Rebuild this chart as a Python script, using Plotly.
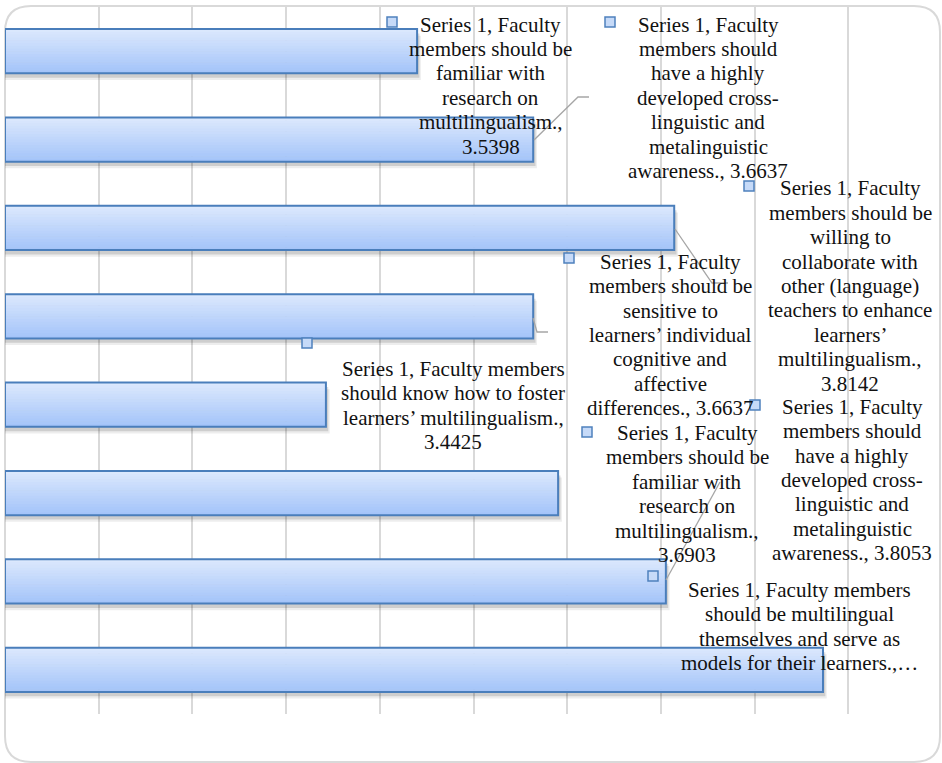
import plotly.graph_objects as go

# ---------------- data ----------------
categories = [
    "Familiar with research on multilingualism (a)",
    "Highly developed cross-linguistic and metalinguistic awareness (a)",
    "Willing to collaborate with other (language) teachers",
    "Sensitive to learners' individual differences",
    "Know how to foster learners' multilingualism",
    "Familiar with research on multilingualism (b)",
    "Highly developed cross-linguistic and metalinguistic awareness (b)",
    "Multilingual themselves and models for learners",
]
values = [3.5398, 3.6637, 3.8142, 3.6637, 3.4425, 3.6903, 3.8053, 3.973]

label_lines = [
    ["Series 1, Faculty", "members should be", "familiar with", "research on", "multilingualism.,", "3.5398"],
    ["Series 1, Faculty", "members should", "have a highly", "developed cross-", "linguistic and", "metalinguistic", "awareness., 3.6637"],
    ["Series 1, Faculty", "members should be", "willing to", "collaborate with", "other (language)", "teachers to enhance", "learners\u2019", "multilingualism.,", "3.8142"],
    ["Series 1, Faculty", "members should be", "sensitive to", "learners\u2019 individual", "cognitive and", "affective", "differences., 3.6637"],
    ["Series 1, Faculty members", "should know how to foster", "learners\u2019 multilingualism.,", "3.4425"],
    ["Series 1, Faculty", "members should be", "familiar with", "research on", "multilingualism.,", "3.6903"],
    ["Series 1, Faculty", "members should", "have a highly", "developed cross-", "linguistic and", "metalinguistic", "awareness., 3.8053"],
    ["Series 1, Faculty members", "should be multilingual", "themselves and serve as", "models for their learners.,\u2026"],
]

x_min, x_max = 3.1, 4.1

# ---------------- layout geometry (pixels) ----------------
W, H = 942, 763
L, R, T, B = 5, 0, 7, 49
PW, PH = W - L - R, H - T - B


def px(x):
    return (x - L) / PW


def py(y):
    return (H - B - y) / PH


# label placement: (center x, first line center y) in pixels
label_pos = [(491, 24.5), (708, 24.5), (850, 188.3), (670, 261.7),
             (453, 369), (687, 433), (852, 406.7), (799, 590)]
key_pos = [(392, 22), (610, 22), (749, 186), (569, 258),
           (307, 343), (755, 405), (587, 432), (653, 576)]
leaders = [
    None,
    [(534, 140), (578, 97), (589, 97)],
    [(675, 229), (712, 283), (728, 283)],
    [(533, 318), (537, 332), (548, 332)],
    None,
    None,
    [(666, 580), (720, 482)],
    None,
]
LINE_H = 24.4

fig = go.Figure()

bar_w = 0.5
lengths = [v - x_min for v in values]

# soft shadow
for dy, dx, a in [(0.075, 0.004, 0.07), (0.05, 0.0025, 0.13)]:
    fig.add_trace(go.Bar(
        y=categories, x=[l + dx for l in lengths], base=x_min, orientation="h",
        width=bar_w, offset=-bar_w / 2 + dy,
        marker=dict(color=f"rgba(0,0,0,{a})", line=dict(width=0)),
        hoverinfo="skip", showlegend=False))

# vertical gradient fill built from thin slices
top_c = (221, 233, 253)
bot_c = (162, 195, 249)
N = 16
sw = bar_w / N
for i in range(N):
    t = (i + 0.5) / N
    c = tuple(round(top_c[k] + (bot_c[k] - top_c[k]) * t) for k in range(3))
    fig.add_trace(go.Bar(
        y=categories, x=lengths, base=x_min, orientation="h",
        width=sw * (1.2 if i < N - 1 else 1.0), offset=-bar_w / 2 + i * sw,
        marker=dict(color=f"rgb{c}", line=dict(width=0)),
        hoverinfo="skip", showlegend=False))

# outline
fig.add_trace(go.Bar(
    y=categories, x=lengths, base=x_min, orientation="h",
    width=bar_w, offset=-bar_w / 2,
    marker=dict(color="rgba(0,0,0,0)", line=dict(color="#4a7ebb", width=2)),
    name="Series 1", showlegend=False))

shapes = []
annotations = []

# chart border (rounded rectangle)
x0, x1, y0, y1, r = 5, 940, 6, 762, 26
pts = (f"M {px(x0 + r)},{py(y0)} L {px(x1 - r)},{py(y0)} "
       f"Q {px(x1)},{py(y0)} {px(x1)},{py(y0 + r)} L {px(x1)},{py(y1 - r)} "
       f"Q {px(x1)},{py(y1)} {px(x1 - r)},{py(y1)} L {px(x0 + r)},{py(y1)} "
       f"Q {px(x0)},{py(y1)} {px(x0)},{py(y1 - r)} L {px(x0)},{py(y0 + r)} "
       f"Q {px(x0)},{py(y0)} {px(x0 + r)},{py(y0)} Z")
shapes.append(dict(type="path", xref="paper", yref="paper", path=pts,
                   line=dict(color="#d9d9d9", width=2), layer="below"))

# leader lines
for ld in leaders:
    if not ld:
        continue
    p = "M " + " L ".join(f"{px(a)},{py(b)}" for a, b in ld)
    shapes.append(dict(type="path", xref="paper", yref="paper", path=p,
                       line=dict(color="#a6a6a6", width=1.3), layer="above"))

# legend keys of data labels
for kx, ky in key_pos:
    shapes.append(dict(type="rect", xref="paper", yref="paper",
                       x0=px(kx - 5), x1=px(kx + 5), y0=py(ky + 5), y1=py(ky - 5),
                       fillcolor="#c6daf8", line=dict(color="#4f81bd", width=1.5),
                       layer="above"))

# data label text, one annotation per line
for (cx, cy), lines in zip(label_pos, label_lines):
    for j, s in enumerate(lines):
        annotations.append(dict(
            x=px(cx), y=py(cy + j * LINE_H), xref="paper", yref="paper",
            text=s, showarrow=False, xanchor="center", yanchor="middle",
            font=dict(family="Liberation Serif, Times New Roman, serif",
                      size=21, color="#111111")))

fig.update_layout(
    width=W, height=H,
    margin=dict(l=L, r=R, t=T, b=B, pad=0),
    paper_bgcolor="white", plot_bgcolor="white",
    barmode="overlay", bargap=0.5,
    showlegend=False,
    xaxis=dict(range=[x_min, x_max], dtick=0.1, tick0=x_min,
               showgrid=True, gridcolor="#d9d9d9", gridwidth=1.5,
               showticklabels=False, ticks="", zeroline=False, showline=False),
    yaxis=dict(autorange=False, range=[len(categories) - 0.5, -0.5],
               showgrid=False, showticklabels=False, ticks="",
               zeroline=False, showline=False),
    shapes=shapes, annotations=annotations,
)

fig.write_html("out.html", config={"displayModeBar": False},
               post_script="document.body.style.margin='0';document.body.style.overflow='hidden';")
